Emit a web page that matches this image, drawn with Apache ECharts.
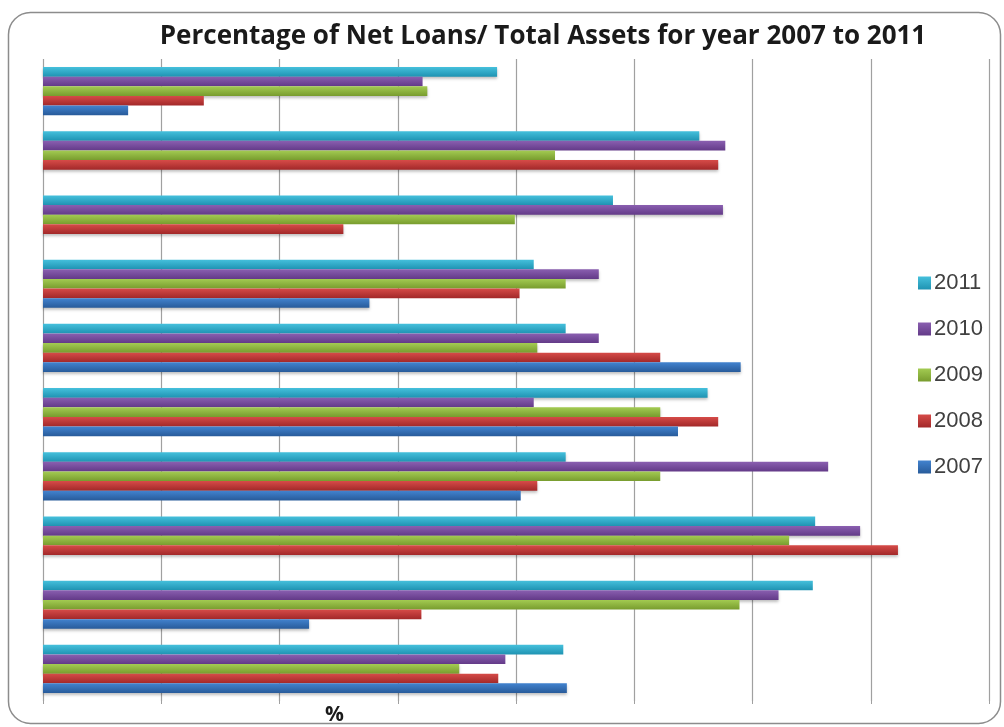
<!DOCTYPE html>
<html>
<head>
<meta charset="utf-8">
<script src="https://cdn.jsdelivr.net/npm/echarts@6/dist/echarts.min.js"></script>
<style>
  html, body { margin: 0; padding: 0; background: #fff; }
  #main { width: 1004px; height: 727px; }
</style>
</head>
<body>
<div id="main"></div>
<script>
// groups, top to bottom (no names shown on the chart)
var groups = ['1', '2', '3', '4', '5', '6', '7', '8', '9', '10']
var years = ['2011', '2010', '2009', '2008', '2007']

// % of net loans / total assets, per year, one value per group
var y2011 = [38.4, 55.5, 48.2, 41.5, 44.2, 56.2, 44.2, 65.3, 65.1, 44.0]
var y2010 = [32.1, 57.7, 57.5, 47.0, 47.0, 41.5, 66.4, 69.1, 62.2, 39.1]
var y2009 = [32.5, 43.3, 39.9, 44.2, 41.8, 52.2, 52.2, 63.1, 58.9, 35.2]
var y2008 = [13.6, 57.1, 25.4, 40.3, 52.2, 57.1, 41.8, 72.3, 32.0, 38.5]
var y2007 = [7.2, 0, 0, 27.6, 59.0, 53.7, 40.4, 0, 22.5, 44.3]

var xTicks = [0, 10, 20, 30, 40, 50, 60, 70, 80]

// top / bottom shade of each year's bar
var shades = {
  '2011': ['#45c0dc', '#1f93b2'],
  '2010': ['#8a5fb0', '#633a88'],
  '2009': ['#a3cb52', '#789c2e'],
  '2008': ['#d64b48', '#a22829'],
  '2007': ['#4283cf', '#285b9a']
}
var values = { '2011': y2011, '2010': y2010, '2009': y2009, '2008': y2008, '2007': y2007 }

var myChart = echarts.init(document.getElementById('main'))

var series = years.map(function(y) {
  return {
    name: y,
    type: 'bar',
    barGap: '0%',
    barCategoryGap: '25%',
    itemStyle: {
      color: new echarts.graphic.LinearGradient(0, 0, 0, 1, [
        { offset: 0, color: shades[y][0] },
        { offset: 1, color: shades[y][1] }
      ]),
      shadowColor: 'rgba(0,0,0,0.25)',
      shadowBlur: 3,
      shadowOffsetY: 2
    },
    data: values[y]
  }
})

var option = {
  backgroundColor: '#fff',
  title: {
    text: 'Percentage of Net Loans/ Total Assets for year 2007 to 2011',
    left: 538,
    top: 19,
    textAlign: 'center',
    textStyle: {
      fontFamily: 'Open Sans',
      fontWeight: 'bold',
      fontSize: 26,
      color: '#1a1a1a'
    }
  },
  legend: {
    orient: 'vertical',
    left: 913,
    top: 267,
    itemWidth: 13,
    itemHeight: 13,
    itemGap: 24,
    icon: 'rect',
    textStyle: {
      fontFamily: 'Liberation Sans',
      fontSize: 22,
      color: '#404040',
      padding: [0, 0, 0, -2]
    },
    data: years
  },
  grid: {
    left: 43,
    right: 15,
    top: 59,
    bottom: 26,
    containLabel: false
  },
  xAxis: {
    type: 'value',
    min: xTicks[0],
    max: xTicks[xTicks.length - 1],
    interval: xTicks[1] - xTicks[0],
    axisLine: { show: false },
    axisTick: { show: true, length: 3, lineStyle: { color: '#a0a0a0' } },
    axisLabel: { show: false },
    splitLine: { show: true, lineStyle: { color: '#a0a0a0', width: 1.2 } }
  },
  yAxis: {
    type: 'category',
    inverse: true,
    data: groups,
    axisLine: { show: false },
    axisTick: { show: false },
    axisLabel: { show: false }
  },
  graphic: [
    {
      type: 'rect',
      shape: { x: 8.5, y: 12.5, width: 992, height: 711, r: 22 },
      style: { fill: 'none', stroke: '#8c8c8c', lineWidth: 1.5 },
      z: -1
    },
    {
      type: 'text',
      left: 325,
      top: 705,
      style: {
        text: '%',
        fontFamily: 'Open Sans',
        fontWeight: 'bold',
        fontSize: 21,
        fill: '#1a1a1a'
      }
    }
  ],
  series: series
}

myChart.setOption(option)
</script>
</body>
</html>
